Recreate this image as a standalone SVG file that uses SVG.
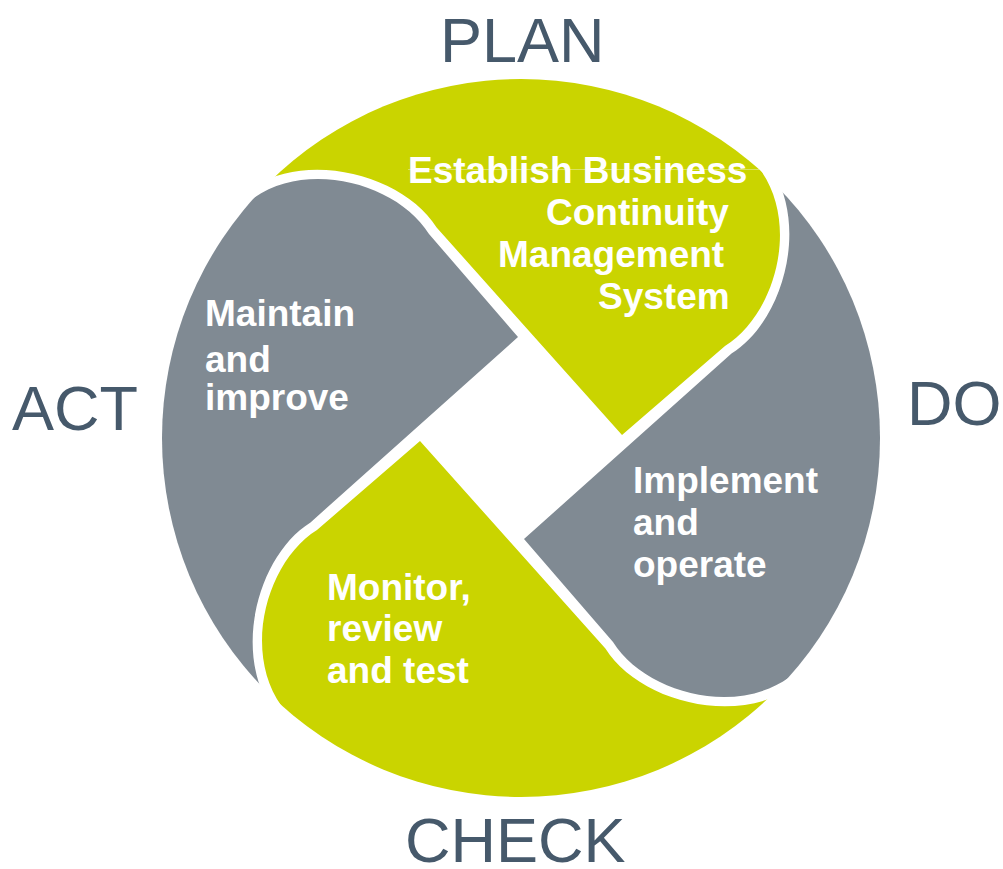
<svg xmlns="http://www.w3.org/2000/svg" xmlns:xlink="http://www.w3.org/1999/xlink" width="1003" height="869" viewBox="0 0 1003 869">
<style>
.green{fill:#cad400}
.gray{fill:#808a93}
.lbl{font-family:"Liberation Sans",Arial,sans-serif;font-weight:bold;font-size:37px;fill:#ffffff}
.phase{font-family:"Liberation Sans",Arial,sans-serif;font-size:63px;fill:#46596b}
</style>
<defs>
<clipPath id="disc"><circle cx="0" cy="0" r="359"/></clipPath>
<path id="blade" clip-path="url(#disc)" d="M -273.8,-247.6 L -300,-400 L 320,-400 L 239.5,-268 C 279,-213 254,-123 204,-92 L 101,-3 L -84.4,-210.5 C -116.5,-262.5 -214.9,-289.9 -273.8,-247.6 Z"/>
</defs>
<rect width="1003" height="869" fill="#ffffff"/>
<g id="plan">
<use href="#blade" xlink:href="#blade" class="green" transform="translate(521,438)"/>
<line x1="408" y1="169.5" x2="759" y2="169.5" stroke="#e2e98a" stroke-width="1" opacity="0.7"/>
<text class="lbl" x="408" y="183">Establish Business</text>
<text class="lbl" x="546" y="225">Continuity</text>
<text class="lbl" x="498" y="267">Management</text>
<text class="lbl" x="598" y="309">System</text>
<text class="phase" x="440" y="62">PLAN</text>
</g>
<g id="do">
<use href="#blade" xlink:href="#blade" class="gray" transform="translate(521,438) rotate(90)"/>
<text class="lbl" x="633" y="493">Implement</text>
<text class="lbl" x="633" y="535">and</text>
<text class="lbl" x="633" y="577">operate</text>
<text class="phase" x="907" y="425">DO</text>
</g>
<g id="check">
<use href="#blade" xlink:href="#blade" class="green" transform="translate(521,438) rotate(180)"/>
<text class="lbl" x="327" y="600">Monitor,</text>
<text class="lbl" x="327" y="641">review</text>
<text class="lbl" x="327" y="683">and test</text>
<text class="phase" x="405" y="862">CHECK</text>
</g>
<g id="act">
<use href="#blade" xlink:href="#blade" class="gray" transform="translate(521,438) rotate(270)"/>
<text class="lbl" x="205" y="326">Maintain</text>
<text class="lbl" x="205" y="372">and</text>
<text class="lbl" x="205" y="410">improve</text>
<text class="phase" x="12" y="430">ACT</text>
</g>
</svg>
